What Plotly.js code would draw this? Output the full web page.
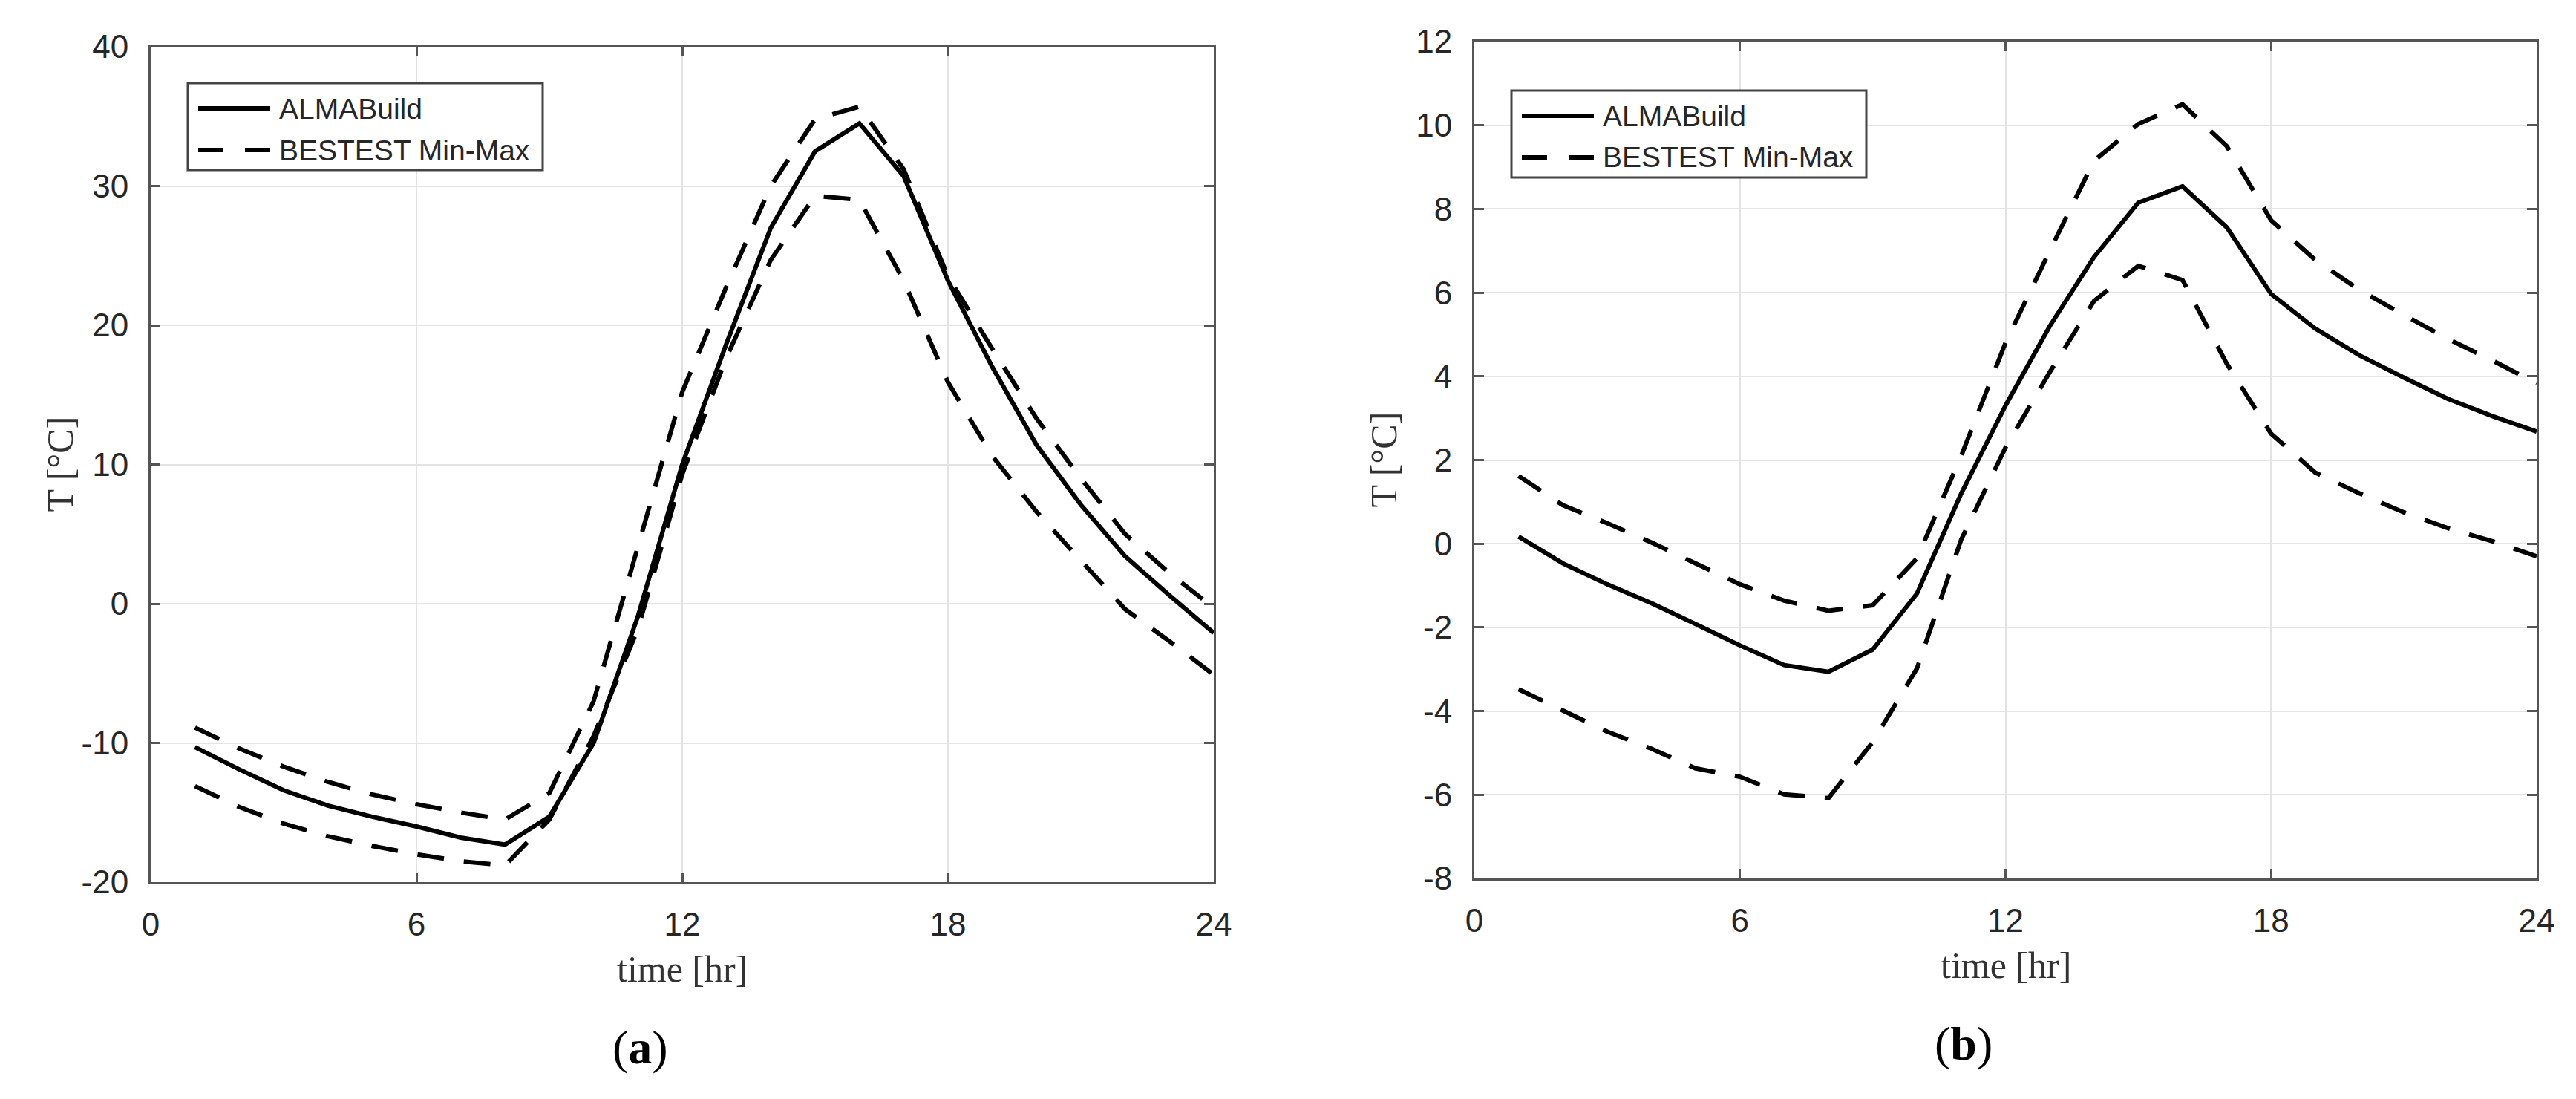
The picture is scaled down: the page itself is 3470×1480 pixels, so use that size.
<!DOCTYPE html>
<html>
<head>
<meta charset="utf-8">
<script src="https://cdn.plot.ly/plotly-3.0.1.min.js"></script>
<style>
  html, body { margin: 0; padding: 0; background: #fff; }
  #chart { width: 3470px; height: 1480px; }
</style>
</head>
<body>
<div id="chart"></div>
<script>
// hourly values
const hours = [1,2,3,4,5,6,7,8,9,10,11,12,13,14,15,16,17,18,19,20,21,22,23,24];

// (a)
const almaA = [-10.3,-11.9,-13.4,-14.5,-15.3,-16.0,-16.8,-17.3,-15.3,-10.0,-0.9,10.0,18.7,27.0,32.5,34.5,30.7,23.2,17.0,11.4,7.1,3.4,0.6,-2.1];
const maxA  = [-8.9,-10.4,-11.7,-12.8,-13.7,-14.4,-15.0,-15.5,-13.6,-7.0,4.1,15.2,22.8,30.0,34.8,35.7,31.2,23.5,18.3,13.3,9.0,5.0,2.2,-0.3];
const minA  = [-13.1,-14.6,-15.8,-16.7,-17.4,-18.0,-18.5,-18.8,-15.5,-9.5,-1.8,9.3,17.7,24.7,29.3,29.0,23.2,15.9,10.6,6.6,3.1,-0.4,-2.7,-5.1];

// (b)
const almaB = [0.17,-0.47,-0.97,-1.42,-1.92,-2.43,-2.9,-3.06,-2.53,-1.19,1.2,3.3,5.2,6.85,8.15,8.54,7.56,5.97,5.14,4.5,3.97,3.46,3.05,2.68];
const maxB  = [1.62,0.92,0.49,0.03,-0.47,-0.97,-1.36,-1.6,-1.47,-0.35,2.1,4.8,7.0,9.15,10.03,10.5,9.5,7.73,6.78,6.06,5.47,4.89,4.38,3.83];
const minB  = [-3.48,-3.98,-4.49,-4.9,-5.37,-5.57,-5.99,-6.08,-4.74,-2.98,0.1,2.3,4.1,5.8,6.64,6.3,4.3,2.63,1.7,1.2,0.75,0.37,0.06,-0.3];

const xTicks = [0, 6, 12, 18, 24];
const yTicksA = [-20, -10, 0, 10, 20, 30, 40];
const yTicksB = [-8, -6, -4, -2, 0, 2, 4, 6, 8, 10, 12];
const legendNames = ["ALMABuild", "BESTEST Min-Max"];

const W = 3470, H = 1480;
const px = x => x / W;
const py = y => 1 - y / H;

const DASH = "36px,27px";
const LW = 6;

function line(x, y, ax, dash) {
  return {
    x: x, y: y, xaxis: "x" + ax, yaxis: "y" + ax,
    type: "scatter", mode: "lines", showlegend: false, hoverinfo: "skip",
    line: {color: "#000", width: LW, dash: dash}
  };
}

const data = [
  line(hours, almaA, "", "solid"),
  line(hours, maxA, "", DASH),
  line(hours, minA, "", DASH),
  line(hours, almaB, "2", "solid"),
  line(hours, maxB, "2", DASH),
  line(hours, minB, "2", DASH)
];

const tickFont = {family: "Liberation Sans, Arial, sans-serif", size: 44, color: "#262626"};
const common = {
  showgrid: true, gridcolor: "#e3e3e3", gridwidth: 2, zeroline: false,
  showline: true, linecolor: "#555", linewidth: 3, mirror: "allticks",
  ticks: "inside", ticklen: 13, tickwidth: 3, tickcolor: "#555",
  tickfont: tickFont, tickmode: "array"
};

function xAxis(domain, anchor) {
  return Object.assign({}, common, {
    domain: domain, anchor: anchor, range: [0, 24],
    tickvals: xTicks, ticktext: xTicks.map(String), ticklabelstandoff: 16
  });
}
function yAxis(domain, anchor, range, ticks) {
  // plain hyphen for negatives, as in the original
  return Object.assign({}, common, {
    domain: domain, anchor: anchor, range: range,
    tickvals: ticks, ticktext: ticks.map(String), ticklabelstandoff: 18
  });
}

// panel frames in px: [left, right, top, bottom]
const panA = [203, 1635, 63, 1188];
const panB = [1986, 3417, 56, 1183];

const serif = "Liberation Serif, Times New Roman, serif";
const annotations = [];
const shapes = [];

function note(x, y, text, font, extra) {
  annotations.push(Object.assign({xref: "paper", yref: "paper", x: px(x), y: py(y),
    xanchor: "center", yanchor: "middle", text: text, showarrow: false, font: font}, extra || {}));
}

function panelText(p, label, legTop) {
  const cx = (p[0] + p[1]) / 2, cy = (p[2] + p[3]) / 2;
  note(cx, p[3] + 117, "time [hr]", {family: serif, size: 50, color: "#333"});
  note(p[0] - 123, cy, "T [°C]", {family: serif, size: 50, color: "#333"}, {textangle: -90});
  note(cx - 57, p[3] + 222, "(<b>" + label + "</b>)", {family: serif, size: 64, color: "#000"});

  // legend box
  const lx = p[0] + 50, ly = legTop;
  shapes.push({type: "rect", xref: "paper", yref: "paper",
    x0: px(lx), x1: px(lx + 478), y0: py(ly), y1: py(ly + 117),
    line: {color: "#444", width: 3}, fillcolor: "#fff", layer: "above"});
  const rows = [ly + 34, ly + 90];
  const dashes = ["solid", "34px,29px"];
  rows.forEach((ry, i) => {
    shapes.push({type: "line", xref: "paper", yref: "paper",
      x0: px(lx + 14), x1: px(lx + 111), y0: py(ry), y1: py(ry),
      line: {color: "#000", width: LW, dash: dashes[i]}, layer: "above"});
    note(lx + 121, ry, legendNames[i],
      {family: "Liberation Sans, Arial, sans-serif", size: 39, color: "#262626"}, {xanchor: "left"});
  });
}
panelText(panA, "a", 112);
panelText(panB, "b", 122);

const layout = {
  width: W, height: H,
  margin: {l: 0, r: 0, t: 0, b: 0},
  paper_bgcolor: "#fff", plot_bgcolor: "#fff",
  showlegend: false,
  xaxis: xAxis([px(panA[0]), px(panA[1])], "y"),
  yaxis: yAxis([py(panA[3]), py(panA[2])], "x", [-20, 40], yTicksA),
  xaxis2: xAxis([px(panB[0]), px(panB[1])], "y2"),
  yaxis2: yAxis([py(panB[3]), py(panB[2])], "x2", [-8, 12], yTicksB),
  annotations: annotations,
  shapes: shapes
};

Plotly.newPlot("chart", data, layout, {displayModeBar: false, staticPlot: true});
</script>
</body>
</html>
